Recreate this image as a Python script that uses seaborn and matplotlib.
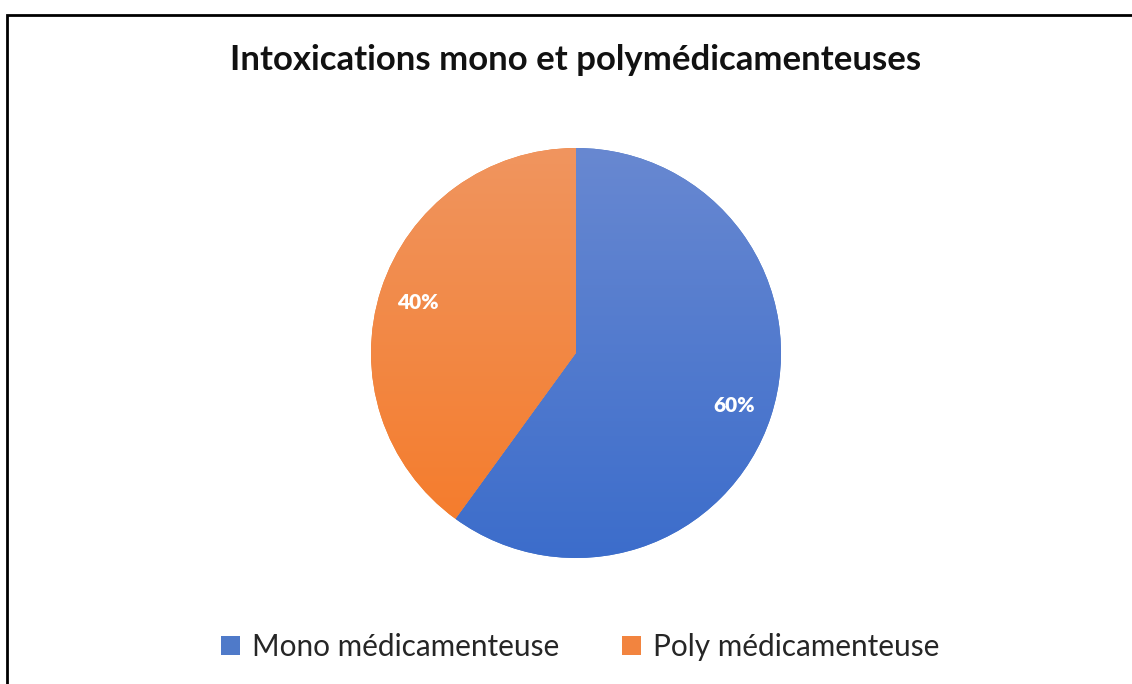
import numpy as np
import matplotlib
matplotlib.use("Agg")
import matplotlib.pyplot as plt
import seaborn as sns
from matplotlib.patches import Patch, Rectangle
from matplotlib.colors import LinearSegmentedColormap

categories = ["Mono médicamenteuse", "Poly médicamenteuse"]
values = [60, 40]
pct_labels = ["60%", "40%"]
title = "Intoxications mono et polymédicamenteuses"

sns.set_theme(style="white")
plt.rcParams['font.family'] = ['Lato', 'DejaVu Sans']

W, H = 1132, 684
fig = plt.figure(figsize=(W / 100, H / 100), dpi=100)
fig.patch.set_facecolor("white")

cx, cy, r = 576, 353, 205
ax = fig.add_axes([(cx - r) / W, (H - cy - r) / H, 2 * r / W, 2 * r / H])

base_colors = ["#4472C4", "#ED7D31"]
grad = [("#6888D1", "#3C6DCB"), ("#F0955F", "#F57A28")]

wedges, texts = ax.pie(values, startangle=90, counterclock=False,
                       colors=base_colors, radius=1,
                       wedgeprops=dict(linewidth=0))
for w, (top, bot) in zip(wedges, grad):
    cmap = LinearSegmentedColormap.from_list("g", [bot, top])
    img = ax.imshow(np.linspace(0, 1, 256).reshape(-1, 1), cmap=cmap,
                    origin="lower", extent=[-1, 1, -1, 1], aspect="auto",
                    zorder=w.get_zorder() + 0.1)
    img.set_clip_path(w)

# percentage labels at wedge mid-angles
total = sum(values)
ang = 90.0
for v, lab in zip(values, pct_labels):
    span = 360.0 * v / total
    mid = np.deg2rad(ang - span / 2)
    ax.text(0.81 * np.cos(mid), 0.81 * np.sin(mid) - 0.005, lab, ha="center", va="center",
            color="white", fontsize=15, fontweight="heavy", zorder=5)
    ang -= span

ax.set_xlim(-1, 1)
ax.set_ylim(-1, 1)
ax.set_aspect("auto")
ax.axis("off")

fig.text(cx / W, 1 - 60 / H, title, ha="center", va="center",
         fontsize=25, fontweight="bold", color="#111111")

handles = [Patch(facecolor=c, edgecolor="none") for c in ["#4F7AC9", "#F2843F"]]
fig.legend(handles, categories, loc="center", bbox_to_anchor=(580 / W, 1 - 647 / H),
           ncol=2, frameon=False, fontsize=21.4, handlelength=0.65, handleheight=0.65,
           handletextpad=0.4, columnspacing=2.1)

border = Rectangle((7 / W, -0.1), 1.2, 1 - 15 / H + 0.1, transform=fig.transFigure,
                   fill=False, edgecolor="black", linewidth=2, clip_on=False)
fig.add_artist(border)

fig.savefig("out.png", dpi=100)
